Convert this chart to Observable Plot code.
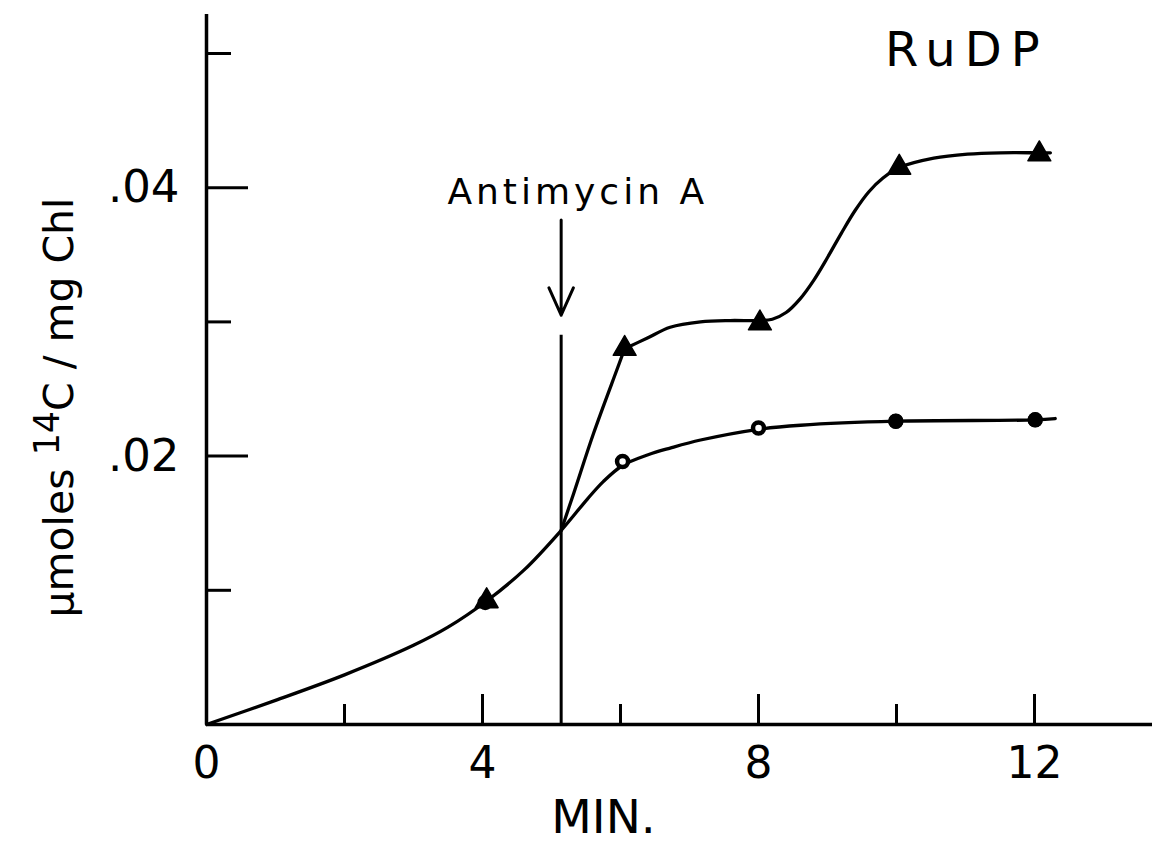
<!DOCTYPE html>
<html>
<head>
<meta charset="utf-8">
<script src="https://cdn.jsdelivr.net/npm/d3@7"></script>
<script src="https://cdn.jsdelivr.net/npm/@observablehq/plot@0.6"></script>
<style>
  html, body { margin: 0; padding: 0; background: #fff; }
  #chart svg { display: block; }
</style>
</head>
<body>
<div id="chart"></div>
<script>
// ---- measured points (time in min, µmoles 14C / mg Chl) ----
const triangleTime  = [4.06, 6.06, 8.02, 10.04, 12.07];
const triangleValue = [0.0092, 0.0280, 0.0299, 0.0415, 0.0425];
const circleTime    = [4.04, 6.03, 8.0, 9.99, 12.01];
const circleValue   = [0.0091, 0.0196, 0.0221, 0.0226, 0.0227];

// ---- hand-drawn curves ----
// control (circles): one smooth curve from the origin
const mainTime  = [0, 1, 2, 3, 3.5, 4.06, 4.6, 5.14, 5.52, 5.75, 6.03, 6.4, 6.72, 7.16, 8.0, 8.61, 9.99, 12.01, 12.3];
const mainValue = [0, 0.0018, 0.0037, 0.0059, 0.00725, 0.0092, 0.0115, 0.01446, 0.0168, 0.0181, 0.0193, 0.0201, 0.0206, 0.0212, 0.0220, 0.0223, 0.0226, 0.0227, 0.0228];
// branch after antimycin (triangles): steep rise, then plateau and second rise
const riseTime  = [5.14, 5.32, 5.61, 5.96, 6.06];
const riseValue = [0.01446, 0.0172, 0.0217, 0.0266, 0.0280];
const plateauTime  = [6.06, 6.39, 6.72, 7.16, 7.59, 8.02, 8.2, 8.4, 8.6, 8.8, 9.0, 9.2, 9.4, 9.6, 9.8, 10.04, 10.54, 11.03, 11.5, 12.07, 12.23];
const plateauValue = [0.0280, 0.0288, 0.0296, 0.0300, 0.0301, 0.0301, 0.0302, 0.0307, 0.0317, 0.0331, 0.0348, 0.0366, 0.0383, 0.0397, 0.0407, 0.0415, 0.0422, 0.0425, 0.0426, 0.0426, 0.0426];

// ---- axes ----
const xLabelTicks = [0, 4, 8, 12];
const xMajorTicks = [4, 8, 12];
const xMinorTicks = [2, 6, 10];
const yLabelTicks = [0.02, 0.04];
const yMajorTicks = [0.02, 0.04];
const yMinorTicks = [0.01, 0.03, 0.05];

// ---- annotation ----
const antimycinTime = [5.14];
const antimycinLineTop = [0.0290];
const arrowFrom = [0.0376];
const arrowTo = [0.0305];
const annotationText = ["Antimycin A", "RuDP"];
const annotationTime = [5.38, 11.02];
const annotationValue = [0.0388, 0.0491];
const xTitle = "MIN.";
const yTitle = "μmoles 14C / mg Chl";

// ---- build tables ----
const curveRows = [
  ...mainTime.map((t, i) => ({branch: "main", t, v: mainValue[i]})),
  ...riseTime.map((t, i) => ({branch: "rise", t, v: riseValue[i]})),
  ...plateauTime.map((t, i) => ({branch: "plateau", t, v: plateauValue[i]}))
];
const triangles = triangleTime.map((t, i) => ({t, v: triangleValue[i]}));
const circles = circleTime.map((t, i) => ({t, v: circleValue[i], i}));
const antimycin = antimycinTime.map((t, i) => ({t, top: antimycinLineTop[i], from: arrowFrom[i], to: arrowTo[i]}));
const labels = annotationText.map((s, i) => ({s, t: annotationTime[i], v: annotationValue[i]}));

const W = 1152, H = 845;
const mL = 206, mR = 0, mT = 14, mB = 121;
const innerW = W - mL - mR, innerH = H - mT - mB;
const pxPerMin = 69, pxPerUnit = 13420;

const chart = Plot.plot({
  width: W, height: H,
  marginLeft: mL, marginRight: mR, marginTop: mT, marginBottom: mB,
  x: {domain: [0, innerW / pxPerMin]},
  y: {domain: [0, innerH / pxPerUnit]},
  style: {fontFamily: "'DejaVu Sans', sans-serif", background: "#fff", color: "#000"},
  marks: [
    Plot.axisX(xLabelTicks, {tickSize: 0, tickPadding: 22, fontSize: 44, tickFormat: d => String(d), label: null}),
    Plot.axisY(yLabelTicks, {tickSize: 0, tickPadding: 27, fontSize: 45, tickFormat: d => d3.format(".2f")(d).slice(1), label: null}),
    Plot.ruleY([0], {strokeWidth: 3.5}),
    Plot.ruleX([0], {strokeWidth: 3.5}),
    Plot.tickX(xMajorTicks, {insetTop: innerH - 30, strokeWidth: 3}),
    Plot.tickX(xMinorTicks, {insetTop: innerH - 20, strokeWidth: 3}),
    Plot.tickY(yMajorTicks, {insetRight: innerW - 42, strokeWidth: 3}),
    Plot.tickY(yMinorTicks, {insetRight: innerW - 25, strokeWidth: 3}),
    Plot.ruleX(antimycin, {x: "t", y1: () => 0, y2: "top", strokeWidth: 3}),
    Plot.arrow(antimycin, {x: "t", y1: "from", y2: "to", strokeWidth: 3, headAngle: 48, headLength: 15}),
    Plot.line(curveRows, {x: "t", y: "v", z: "branch", curve: "catmull-rom", strokeWidth: 3.3, strokeLinecap: "round", strokeLinejoin: "round"}),
    Plot.dot(circles, {x: "t", y: "v", r: 5.5, fill: "#fff", stroke: "#000", strokeWidth: 4.5}),
    Plot.dot(circles, {x: "t", y: "v", r: 7.5, fill: "#000", filter: d => d.i >= 3}),
    Plot.dot(triangles, {x: "t", y: "v", symbol: "triangle", r: 8.5, fill: "#000", stroke: "#000", strokeWidth: 1.5, strokeLinejoin: "round"}),
    Plot.text(labels, {x: "t", y: "v", text: "s", lineAnchor: "bottom", textAnchor: "middle", fontSize: d => d.s === "RuDP" ? 48 : 36}),
    Plot.text([xTitle], {frameAnchor: "bottom", dx: -76, dy: 108, lineAnchor: "bottom", textAnchor: "middle", fontSize: 47}),
    Plot.text([yTitle], {frameAnchor: "left", rotate: -90, dx: -134, dy: 38, lineAnchor: "bottom", textAnchor: "middle", fontSize: 41})
  ]
});

document.getElementById("chart").appendChild(chart);

// letter spacing and superscript
chart.querySelectorAll("text").forEach(el => {
  const s = el.textContent;
  if (s === "Antimycin A") el.setAttribute("letter-spacing", "4");
  if (s === "RuDP") el.setAttribute("letter-spacing", "9");
  if (s === yTitle) {
    const ns = "http://www.w3.org/2000/svg";
    while (el.firstChild) el.removeChild(el.firstChild);
    const a = document.createElementNS(ns, "tspan"); a.textContent = "μmoles ";
    const b = document.createElementNS(ns, "tspan"); b.textContent = "14"; b.setAttribute("dy", "-0.4em"); b.setAttribute("font-size", "0.85em");
    const c = document.createElementNS(ns, "tspan"); c.textContent = "C / mg Chl"; c.setAttribute("dy", "0.34em");
    el.append(a, b, c);
  }
});
</script>
</body>
</html>
